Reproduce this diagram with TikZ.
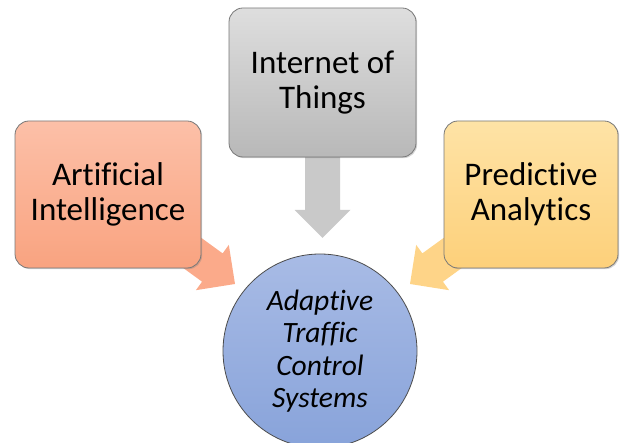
\documentclass[tikz,border=0pt]{standalone}
\usepackage{fontspec}
\setmainfont[Ligatures=NoCommon]{Carlito}
\usetikzlibrary{shadows}
\definecolor{aiTop}{RGB}{252,192,168}
\definecolor{aiBot}{RGB}{249,163,128}
\definecolor{iotTop}{RGB}{222,222,222}
\definecolor{iotBot}{RGB}{184,184,184}
\definecolor{paTop}{RGB}{254,227,166}
\definecolor{paBot}{RGB}{253,208,122}
\definecolor{cTop}{RGB}{168,187,229}
\definecolor{cBot}{RGB}{136,163,218}
\definecolor{aiArr}{RGB}{251,170,138}
\definecolor{iotArr}{RGB}{201,201,201}
\definecolor{paArr}{RGB}{254,212,136}
\definecolor{edge}{RGB}{120,120,120}
\newcommand\blockarrowat[3]{%
  \begin{scope}[shift={(#1)}, rotate=#2]
    \fill[#3] (0,0) -- (-28,28) -- (-28,17.5) -- (-95,17.5) -- (-95,-17.5) -- (-28,-17.5) -- (-28,-28) -- cycle;
  \end{scope}}
\begin{document}
\begin{tikzpicture}[x=1pt,y=1pt,
  srcbox/.style={draw=edge, line width=0.8pt, rounded corners=14pt, shading=axis, align=center,
    inner sep=0pt, font=\fontsize{33}{35}\selectfont,
    drop shadow={shadow xshift=1.2pt, shadow yshift=-1.2pt, opacity=0.35}},
  hub/.style={circle, draw=black!70, line width=0.8pt, shading=axis, top color=cTop, bottom color=cBot,
    minimum size=194pt, inner sep=0pt, align=center, font=\fontsize{29.5}{32.5}\selectfont\itshape}]
\useasboundingbox (0,0) rectangle (620,443);
\clip (0,0) rectangle (620,443);
\coordinate (tipIoT) at (322.5,205);
\coordinate (tipAI) at (235,159);
\coordinate (tipPA) at (410,159);
\blockarrowat{tipIoT}{-90}{iotArr}
\blockarrowat{tipAI}{-36}{aiArr}
\blockarrowat{tipPA}{216}{paArr}
\node[srcbox, top color=iotTop, bottom color=iotBot, minimum width=187pt, minimum height=149pt]
  (iot) at (322.5,360.5) {Internet of\\Things};
\node[srcbox, top color=aiTop, bottom color=aiBot, minimum width=186pt, minimum height=147pt]
  (ai) at (108,248.5) {Artificial\\Intelligence};
\node[srcbox, top color=paTop, bottom color=paBot, minimum width=174pt, minimum height=147pt]
  (pa) at (531,248.5) {Predictive\\Analytics};
\node[hub] (atcs) at (320,92) {Adaptive\\Traffic\\Control\\Systems};
\end{tikzpicture}
\end{document}
